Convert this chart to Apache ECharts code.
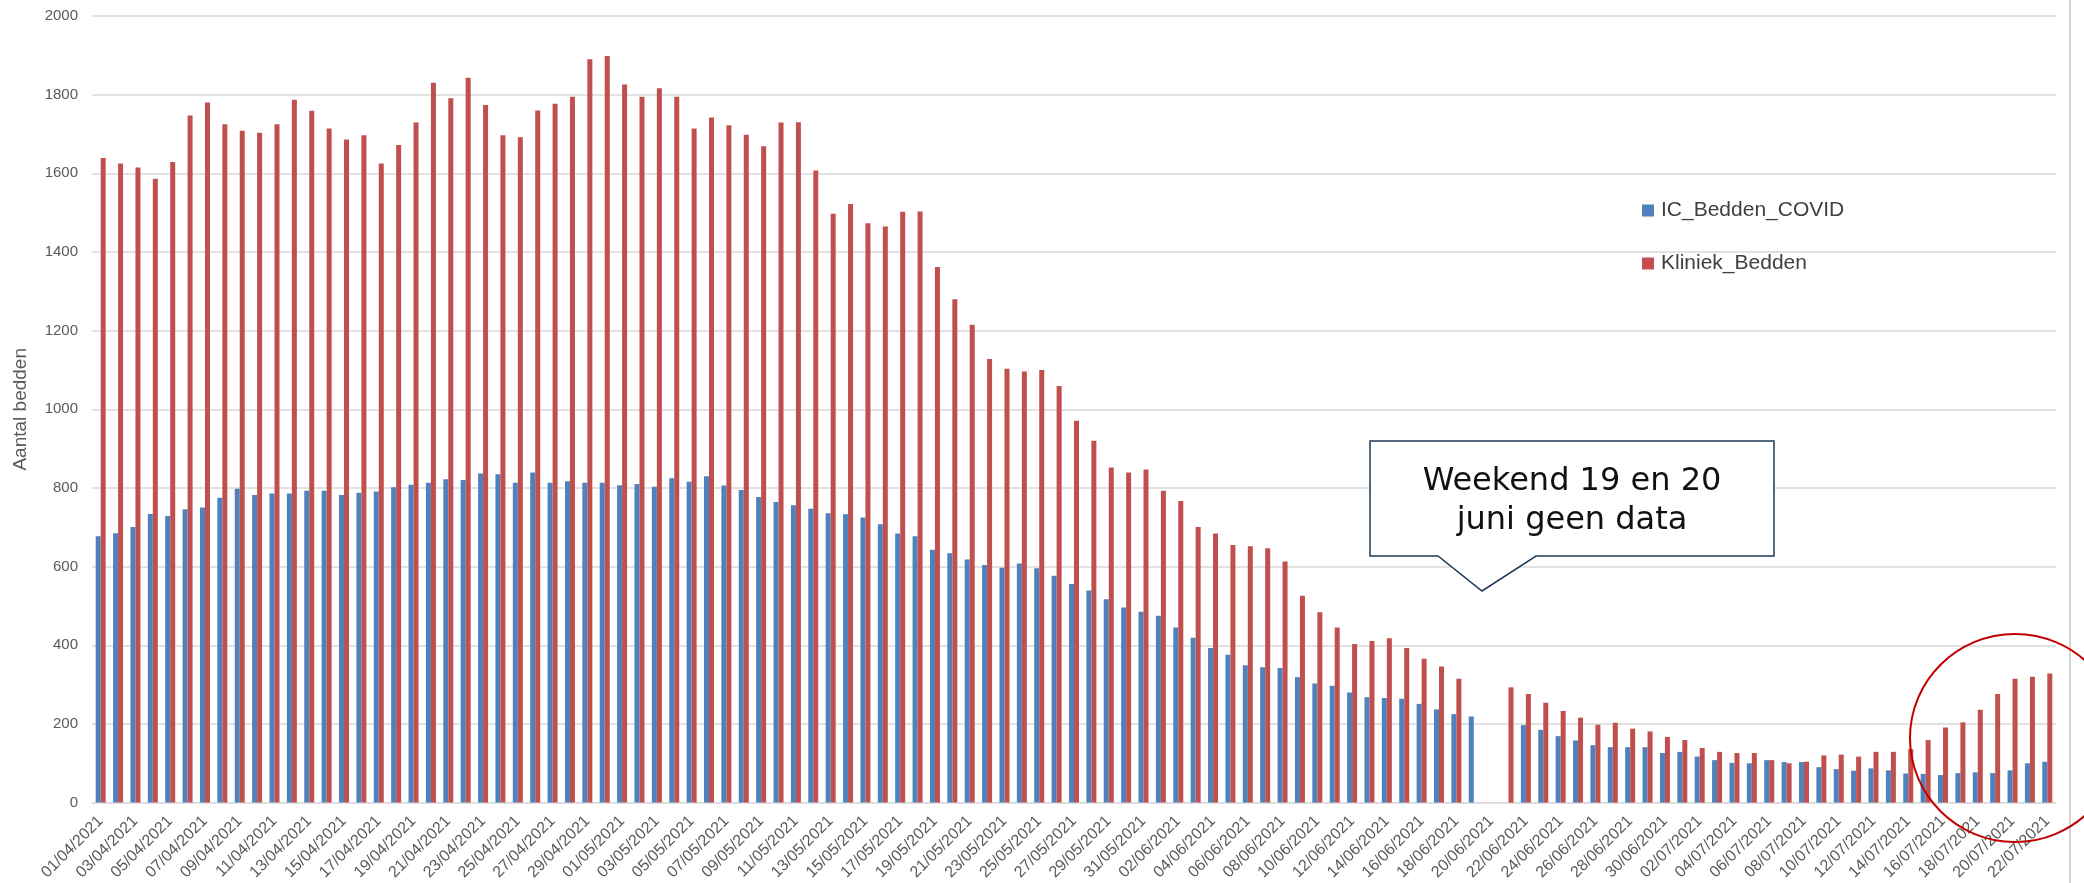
<!DOCTYPE html>
<html>
<head>
<meta charset="utf-8">
<title>Aantal bedden</title>
<script src="https://cdn.jsdelivr.net/npm/echarts@6/dist/echarts.min.js"></script>
<style>
  html, body { margin: 0; padding: 0; background: #fff; }
  #bedden { width: 2084px; height: 883px; }
</style>
</head>
<body>
<div id="bedden"></div>
<script>
// datums (x-as), 01/04/2021 t/m 22/07/2021
const datums = [
  '01/04/2021','02/04/2021','03/04/2021','04/04/2021','05/04/2021','06/04/2021','07/04/2021','08/04/2021','09/04/2021','10/04/2021',
  '11/04/2021','12/04/2021','13/04/2021','14/04/2021','15/04/2021','16/04/2021','17/04/2021','18/04/2021','19/04/2021','20/04/2021',
  '21/04/2021','22/04/2021','23/04/2021','24/04/2021','25/04/2021','26/04/2021','27/04/2021','28/04/2021','29/04/2021','30/04/2021',
  '01/05/2021','02/05/2021','03/05/2021','04/05/2021','05/05/2021','06/05/2021','07/05/2021','08/05/2021','09/05/2021','10/05/2021',
  '11/05/2021','12/05/2021','13/05/2021','14/05/2021','15/05/2021','16/05/2021','17/05/2021','18/05/2021','19/05/2021','20/05/2021',
  '21/05/2021','22/05/2021','23/05/2021','24/05/2021','25/05/2021','26/05/2021','27/05/2021','28/05/2021','29/05/2021','30/05/2021',
  '31/05/2021',
  '01/06/2021','02/06/2021','03/06/2021','04/06/2021','05/06/2021','06/06/2021','07/06/2021','08/06/2021','09/06/2021','10/06/2021',
  '11/06/2021','12/06/2021','13/06/2021','14/06/2021','15/06/2021','16/06/2021','17/06/2021','18/06/2021','19/06/2021','20/06/2021',
  '21/06/2021','22/06/2021','23/06/2021','24/06/2021','25/06/2021','26/06/2021','27/06/2021','28/06/2021','29/06/2021','30/06/2021',
  '01/07/2021','02/07/2021','03/07/2021','04/07/2021','05/07/2021','06/07/2021','07/07/2021','08/07/2021','09/07/2021','10/07/2021',
  '11/07/2021','12/07/2021','13/07/2021','14/07/2021','15/07/2021','16/07/2021','17/07/2021','18/07/2021','19/07/2021','20/07/2021',
  '21/07/2021','22/07/2021'
];

// IC bedden covid
const icBedden = [
  677, 685, 701, 734, 729, 746, 750, 775, 798, 782, 786, 786, 793, 793, 782, 788, 791, 802, 808, 813,
  822, 820, 837, 835, 813, 839, 813, 817, 813, 813,
  807, 810, 803, 825, 816, 830, 806, 795, 777, 764, 756, 747, 736, 733, 725, 708, 684, 677, 643, 634,
  618, 604, 597, 608, 596, 577, 556, 539, 517, 496, 485,
  475, 445, 419, 393, 376, 349, 344, 342, 319, 303, 297, 280, 268, 266, 264, 251, 237, 225, 219, null,
  null, 197, 185, 169, 158, 146, 141, 141, 141, 126,
  129, 117, 108, 101, 100, 108, 103, 103, 90, 85, 81, 87, 82, 74, 73, 70, 75, 77, 75, 82,
  100, 104
];

// kliniek bedden
const kliniekBedden = [
  1639, 1625, 1615, 1586, 1629, 1747, 1780, 1725, 1708, 1703, 1725, 1787, 1759, 1714, 1686, 1697, 1625, 1672, 1729, 1830,
  1791, 1843, 1774, 1697, 1692, 1760, 1777, 1795, 1890, 1898,
  1826, 1795, 1816, 1795, 1714, 1742, 1722, 1698, 1669, 1729, 1730, 1607, 1497, 1522, 1473, 1465, 1502, 1503, 1362, 1280,
  1215, 1128, 1103, 1096, 1100, 1059, 971, 920, 852, 839, 847,
  793, 767, 701, 684, 655, 652, 647, 613, 526, 484, 445, 403, 411, 418, 393, 366, 346, 315, null, null,
  293, 276, 254, 233, 216, 198, 203, 188, 181, 167,
  159, 139, 129, 126, 126, 108, 100, 104, 120, 122, 117, 129, 129, 136, 159, 191, 204, 236, 276, 315,
  320, 328
];

const seriesNamen = ['IC_Bedden_COVID', 'Kliniek_Bedden'];
const yTicks = [0, 200, 400, 600, 800, 1000, 1200, 1400, 1600, 1800, 2000];

const chart = echarts.init(document.getElementById('bedden'));

chart.setOption({
  animation: false,
  backgroundColor: '#ffffff',
  color: ['#4f81bd', '#c0504d'],
  textStyle: { fontFamily: 'Liberation Sans, Arial, sans-serif' },
  grid: { left: 92, right: 28, top: 16, bottom: 80 },
  legend: {
    data: seriesNamen,
    orient: 'vertical',
    left: 1637,
    top: 195,
    icon: 'rect',
    itemWidth: 12,
    itemHeight: 12,
    itemGap: 32,
    textStyle: { fontSize: 21, color: '#404040', padding: [0, 0, 0, 2] }
  },
  xAxis: {
    type: 'category',
    data: datums,
    axisLine: { lineStyle: { color: '#d9d9d9', width: 1 } },
    axisTick: { show: false },
    axisLabel: {
      interval: 1,
      rotate: 45,
      margin: 16,
      fontSize: 16,
      color: '#595959'
    }
  },
  yAxis: {
    type: 'value',
    min: yTicks[0],
    max: yTicks[yTicks.length - 1],
    interval: 200,
    name: 'Aantal bedden',
    nameLocation: 'middle',
    nameRotate: 90,
    nameGap: 62,
    nameTextStyle: { fontSize: 19, color: '#595959' },
    axisLine: { show: false },
    axisTick: { show: false },
    axisLabel: {
      fontSize: 15,
      color: '#595959',
      margin: 14,
      formatter: function (v) { return String(v); }
    },
    splitLine: { lineStyle: { color: '#d9d9d9', width: 1.5 } }
  },
  series: [
    {
      name: seriesNamen[0],
      type: 'bar',
      data: icBedden,
      barWidth: 5,
      barGap: '0%'
    },
    {
      name: seriesNamen[1],
      type: 'bar',
      data: kliniekBedden,
      barWidth: 5,
      barGap: '0%'
    }
  ],
  // toelichting + rode cirkel, zoals in het origineel
  graphic: [
    {
      type: 'line',
      shape: { x1: 2070, y1: 0, x2: 2070, y2: 883 },
      style: { stroke: '#d4d4d4', lineWidth: 2 }
    },
    {
      type: 'polygon',
      shape: {
        points: [[1370, 441], [1774, 441], [1774, 556], [1536, 556], [1482, 591], [1438, 556], [1370, 556]]
      },
      style: { fill: '#ffffff', stroke: '#1f3a56', lineWidth: 1.5 },
      z: 100
    },
    {
      type: 'text',
      x: 1572,
      y: 482,
      style: {
        text: 'Weekend 19 en 20',
        fontFamily: 'DejaVu Sans',
        fontSize: 32,
        fill: '#111111',
        align: 'center',
        verticalAlign: 'middle'
      },
      z: 101
    },
    {
      type: 'text',
      x: 1572,
      y: 521,
      style: {
        text: 'juni geen data',
        fontFamily: 'DejaVu Sans',
        fontSize: 32,
        fill: '#111111',
        align: 'center',
        verticalAlign: 'middle'
      },
      z: 101
    },
    {
      type: 'ellipse',
      shape: { cx: 2015, cy: 738, rx: 105, ry: 104 },
      style: { fill: null, stroke: '#c00000', lineWidth: 2 },
      z: 100
    }
  ]
});
</script>
</body>
</html>
